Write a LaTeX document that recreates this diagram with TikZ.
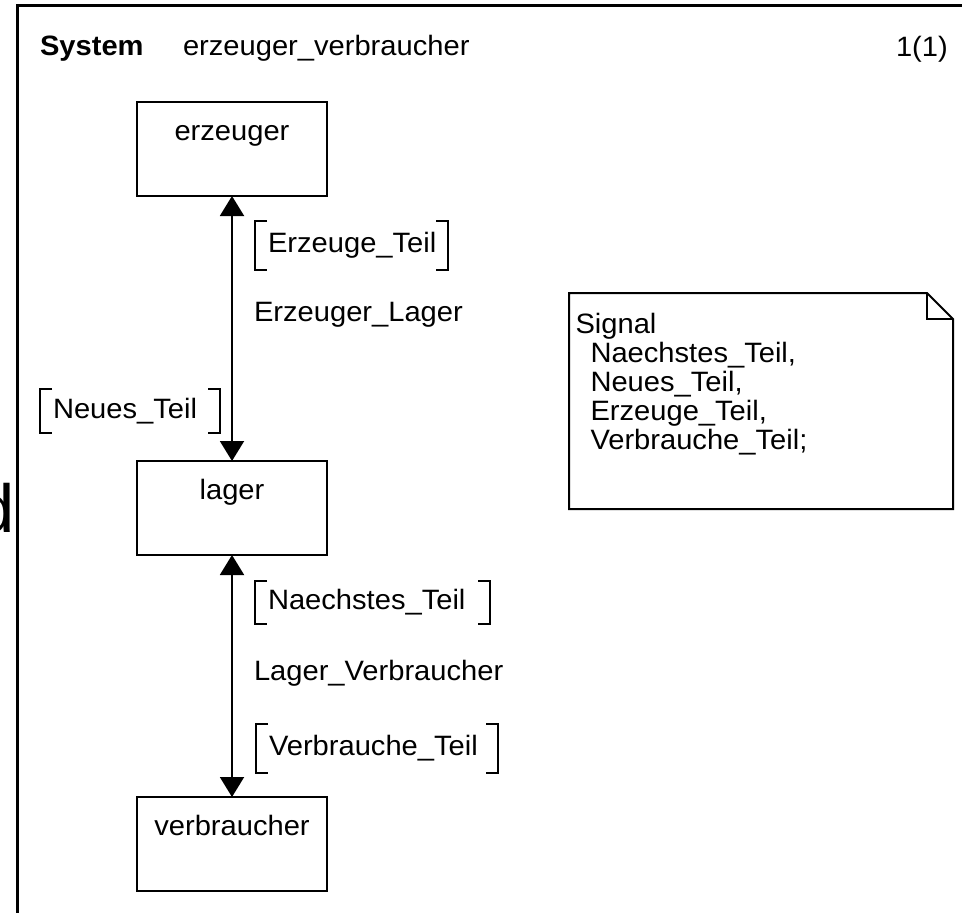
\documentclass[tikz,border=0pt]{standalone}
\usepackage{fontspec}
\setmainfont[FakeStretch=1.04]{Liberation Sans}
\usetikzlibrary{arrows.meta}
\begin{document}
\begin{tikzpicture}[x=1pt, y=-1pt,
  every node/.style={font=\fontsize{28}{31.5}\selectfont, inner sep=0pt, outer sep=0pt},
  block/.style={draw, line width=2pt, minimum width=190pt, text height=38pt, text depth=56pt},
  siglist/.style={inner xsep=13pt, text height=20pt, text depth=6pt, align=left},
  brk/.style={line width=2pt},
  conn/.style={line width=2pt, >={Triangle[length=20pt,width=24pt]}, <->},
  frameline/.style={line width=3pt},
  plain/.style={anchor=base west}
]
\useasboundingbox (0,0) rectangle (962,913);

% page frame (left and top edges)
\draw[frameline] (975,5.5) -- (17.5,5.5) -- (17.5,925);

% letter cut off at the left margin
\node[font=\fontsize{68}{70}\selectfont, anchor=base west] (cut) at (-24,532) {d};

% header
\node[plain, font=\fontsize{28}{31.5}\selectfont\bfseries] (kw) at (40,55) {System};
\node[plain] (sysname) at (183,55) {erzeuger\_verbraucher};
\node[plain] (page) at (896,56) {1(1)};

% blocks
\node[block] (erz) at (232,149) {erzeuger};
\node[block] (lag) at (232,508) {lager};
\node[block] (ver) at (232,844) {verbraucher};

% channels
\draw[conn] (erz) -- (lag);
\draw[conn] (lag) -- (ver);

\node[plain] (ch1) at (254,321) {Erzeuger\_Lager};
\node[plain] (ch2) at (254,680) {Lager\_Verbraucher};

% signal lists on the channels
\node[siglist, text width=167pt, minimum height=49pt] (et) at (351.5,245.5) {Erzeuge\_Teil};
\node[siglist, text width=154pt, minimum height=44pt] (nt) at (130,411) {Neues\_Teil};
\node[siglist, text width=209pt, minimum height=43pt] (nx) at (372.5,602) {Naechstes\_Teil};
\node[siglist, text width=216pt, minimum height=49pt] (vt) at (377,748.5) {Verbrauche\_Teil};

\foreach \n in {et,nt,nx,vt}{
  \draw[brk] ([xshift=12pt]\n.north west) -| (\n.south west) -- ++(12pt,0);
  \draw[brk] ([xshift=-12pt]\n.north east) -| (\n.south east) -- ++(-12pt,0);
}

% signal declaration note
\draw[line width=2pt, line join=miter] (569,293) -- (927,293) -- (953,319) -- (953,509) -- (569,509) -- cycle;
\draw[line width=2pt] (927,293) -- (927,319) -- (953,319);
\node[align=left, anchor=north west, font=\fontsize{28}{29}\selectfont] (decl) at (575.5,313)
  {Signal\\
   \hspace*{15pt}Naechstes\_Teil,\\
   \hspace*{15pt}Neues\_Teil,\\
   \hspace*{15pt}Erzeuge\_Teil,\\
   \hspace*{15pt}Verbrauche\_Teil;};
\end{tikzpicture}
\end{document}
